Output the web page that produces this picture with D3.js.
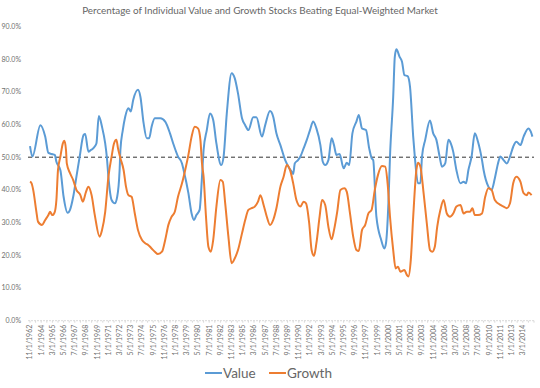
<!DOCTYPE html>
<html lang="en">

<head>
    <meta charset="UTF-8">
    <title>Value vs Growth</title>
    <script src="https://cdn.jsdelivr.net/npm/d3@7/dist/d3.min.js"></script>

    <style>

        body {
            margin: 0;
            background: #fff;
        }

        svg {
            font-family: Lato, "Open Sans", sans-serif;
        }

        .axis text {
            fill: #707070;
            font-size: 7px;
        }

        .series {
            fill: none;
            stroke-width: 2;
            stroke-linejoin: round;
        }

    </style>

</head>

<body>

    <svg width="540" height="388"></svg>

    <script>

        var titleText = "Percentage of Individual Value and Growth Stocks Beating Equal-Weighted Market";

        // one label every 14 months, first month = 11/1962
        var tickLabels = ["11/1/1962", "1/1/1964", "3/1/1965", "5/1/1966", "7/1/1967", "9/1/1968",
            "11/1/1969", "1/1/1971", "3/1/1972", "5/1/1973", "7/1/1974", "9/1/1975", "11/1/1976",
            "1/1/1978", "3/1/1979", "5/1/1980", "7/1/1981", "9/1/1982", "11/1/1983", "1/1/1985",
            "3/1/1986", "5/1/1987", "7/1/1988", "9/1/1989", "11/1/1990", "1/1/1992", "3/1/1993",
            "5/1/1994", "7/1/1995", "9/1/1996", "11/1/1997", "1/1/1999", "3/1/2000", "5/1/2001",
            "7/1/2002", "9/1/2003", "11/1/2004", "1/1/2006", "3/1/2007", "5/1/2008", "7/1/2009",
            "9/1/2010", "11/1/2011", "1/1/2013", "3/1/2014"];

        var yTicks = [0, 10, 20, 30, 40, 50, 60, 70, 80, 90];
        var benchmark = 50;

        // [months since 11/1962, percent]
        var valuePoints = [[0, 53.4], [3, 50.2], [13, 59.8], [19, 56.3], [23, 51.3], [27, 51], [31, 50.7],
            [33, 48.6], [38, 46], [42, 37.9], [47, 33], [50, 33.9], [54, 37.9], [58, 44], [62, 50],
            [67, 56.8], [69, 57.1], [73, 51.7], [76, 52.2], [79, 52.7], [83, 54.2], [86, 62.6], [90, 59.3],
            [94, 54.2], [96, 50.2], [98, 44], [102, 36.9], [106, 35.9], [109, 37.9], [112, 46], [113, 52.2],
            [116, 58.3], [119, 62.4], [123, 65], [126, 64], [129, 67.5], [135, 70.6], [138, 68.5],
            [142, 60.4], [146, 55.8], [149, 55.8], [152, 59.3], [156, 61.9], [163, 61.9], [169, 60.9],
            [175, 57.3], [179, 54.2], [185, 50.2], [190, 48.1], [192, 46.1], [198, 39], [202, 32.8],
            [205, 30.8], [208, 32.3], [212, 33.9], [215, 44], [217, 52.2], [221, 58.3], [225, 63.4],
            [229, 61.4], [233, 54.2], [239, 47.6], [242, 50.2], [246, 63.4], [252, 75.7], [256, 74.1],
            [260, 69.5], [265, 61.9], [269, 59.8], [273, 58.3], [279, 62.2], [283, 62.2], [290, 56.3],
            [294, 59.8], [300, 64.1], [304, 62.4], [308, 57.3], [313, 53.7], [319, 49.1], [323, 47.1],
            [327, 45.6], [329, 44.9], [331, 48.1], [335, 49.1], [338, 50.2], [342, 52.7], [346, 55.3],
            [350, 58.3], [354, 60.9], [358, 58.8], [363, 53.7], [366, 48.6], [369, 47.6], [373, 49.1],
            [377, 55.8], [380, 53.7], [383, 50.7], [387, 51], [392, 46.6], [396, 48.3], [399, 47.6],
            [403, 57.3], [408, 60.9], [411, 62.9], [415, 58.8], [420, 58.3], [424, 52.7], [427, 49.7],
            [429, 49.1], [433, 31.8], [439, 24.7], [443, 22.1], [445, 23.7], [448, 35.9], [450, 50.2],
            [454, 68.5], [456, 80.7], [458, 83], [462, 80.7], [465, 79.2], [468, 75.1], [472, 74.8],
            [475, 71.6], [479, 56.3], [481, 50.2], [485, 42], [488, 42], [490, 50.2], [494, 55.3],
            [500, 61.2], [504, 57.3], [508, 55.3], [512, 50.2], [515, 47.1], [519, 48.1], [523, 55.3],
            [526, 54.2], [529, 51.7], [533, 46.1], [538, 42], [542, 42.5], [545, 42], [548, 46.1],
            [552, 50.2], [556, 57.3], [560, 54.7], [565, 49.1], [567, 46.1], [573, 41], [577, 40],
            [581, 43.5], [585, 48.1], [588, 50.2], [592, 49.1], [596, 48.1], [600, 50.2], [604, 53.2],
            [608, 54.7], [613, 53.7], [617, 56.3], [623, 58.8], [626, 57.8], [628, 56.3]];

        var growthPoints = [[0, 42.5], [2, 42], [4, 40], [8, 33.3], [10, 30.3], [15, 29.3], [19, 30.8],
            [23, 32.3], [25, 33.3], [28, 32.3], [31, 33.3], [33, 36.9], [35, 46.1], [38, 50.2], [41, 54.2],
            [43, 55], [45, 52.2], [46, 48.1], [50, 45.1], [54, 43], [58, 40], [63, 38.4], [66, 36.4],
            [70, 39.4], [73, 41], [77, 38.4], [81, 32.3], [87, 25.7], [90, 27.7], [94, 33.3], [98, 44],
            [102, 50.2], [105, 54.2], [108, 55.3], [110, 52.7], [113, 49.7], [117, 46.1], [120, 41],
            [123, 38.4], [127, 37.9], [131, 32.8], [135, 27.7], [140, 24.7], [144, 23.7], [148, 23.1],
            [152, 22.1], [156, 21.1], [160, 20.4], [165, 21.1], [169, 24.7], [173, 29.3], [177, 31.8],
            [181, 33.3], [185, 37.9], [190, 42], [194, 46.1], [198, 50.7], [202, 56.3], [206, 59.3],
            [210, 58.8], [213, 55.3], [215, 48.1], [217, 44], [220, 31.8], [223, 22.6], [226, 21.1],
            [229, 24.7], [233, 34.9], [238, 43], [241, 42.5], [244, 35.9], [248, 25.7], [252, 17.6],
            [256, 19.1], [260, 21.6], [265, 26.7], [269, 30.8], [273, 33.9], [277, 34.4], [281, 34.9],
            [285, 36.4], [288, 38.4], [292, 35.4], [296, 31.8], [300, 29.3], [304, 30.8], [308, 34.4],
            [313, 41], [317, 44], [321, 47.6], [325, 46.1], [329, 42], [333, 36.9], [338, 34.9],
            [342, 36.4], [345, 35.9], [349, 29.8], [352, 21.6], [355, 19.8], [358, 23.7], [362, 31.8],
            [365, 36.9], [369, 35.4], [373, 28.7], [377, 24.9], [380, 27.7], [384, 33.3], [388, 40],
            [393, 40.5], [396, 39.4], [400, 32.8], [404, 25.7], [408, 21.6], [411, 21.3], [415, 27.7],
            [419, 29.3], [423, 32.8], [427, 33.9], [431, 40], [435, 44.6], [440, 47.3], [444, 47.1],
            [447, 42], [450, 31.8], [454, 21.6], [457, 16], [460, 16.5], [463, 15], [468, 15.5],
            [471, 14], [473, 13.5], [476, 18.6], [479, 31.8], [483, 46.1], [485, 48.3], [488, 47.1],
            [492, 39], [496, 29.8], [500, 21.6], [503, 21.1], [506, 22.6], [509, 28.7], [513, 33.9],
            [517, 36.9], [521, 32.8], [525, 31.8], [529, 32.8], [533, 34.9], [538, 35.4], [542, 32.8],
            [546, 33.3], [550, 33.3], [553, 34.4], [556, 32.3], [560, 32.3], [565, 32.8], [569, 37.9],
            [573, 40.5], [577, 40], [581, 36.9], [588, 35.4], [592, 34.9], [596, 34.4], [600, 35.9],
            [604, 42], [608, 44], [613, 42.5], [617, 39], [621, 38.4], [623, 39.2], [627, 38.4]];

        var seriesNames = ["Value", "Growth"];
        var seriesColors = ["#5b9bd5", "#ed7d31"];

        var svg = d3.select("svg");

        var x = d3.scaleLinear().domain([0, 630]).range([30, 534]);
        var y = d3.scaleLinear().domain([0, 90]).range([320.7, 26.4]);

        // title, sized to the width it has in the original
        var title = svg.append("text")
            .attr("x", 260)
            .attr("y", 14)
            .attr("text-anchor", "middle")
            .style("fill", "#666")
            .style("font-size", "10px")
            .text(titleText);
        var tw = title.node().getComputedTextLength();
        title.style("font-size", (10 * 356 / tw) + "px");

        // y axis labels
        svg.append("g")
            .attr("class", "axis")
            .selectAll("text")
            .data(yTicks)
            .enter().append("text")
            .attr("x", 21)
            .attr("y", function(d) { return y(d); })
            .attr("dy", "0.35em")
            .attr("text-anchor", "end")
            .text(function(d) { return d.toFixed(1) + "%"; });

        // x axis
        var xAxis = svg.append("g")
            .attr("class", "axis")
            .attr("transform", "translate(0," + y(0) + ")");

        xAxis.append("line")
            .attr("x1", 28)
            .attr("x2", 534)
            .attr("stroke", "#d9d9d9")
            .attr("stroke-width", 1)
            .attr("stroke-dasharray", "2,1");

        xAxis.selectAll("line.tick")
            .data(d3.range(0, 631, 7))
            .enter().append("line")
            .attr("class", "tick")
            .attr("x1", function(d) { return x(d); })
            .attr("x2", function(d) { return x(d); })
            .attr("y1", 0)
            .attr("y2", 2)
            .attr("stroke", "#d9d9d9");

        xAxis.selectAll("text")
            .data(tickLabels)
            .enter().append("text")
            .attr("transform", function(d, i) {
                return "translate(" + x(i * 14) + ",4) rotate(-90)";
            })
            .attr("dy", "0.35em")
            .attr("text-anchor", "end")
            .text(function(d) { return d; });

        // 50% reference line
        svg.append("line")
            .attr("x1", 28)
            .attr("x2", 534)
            .attr("y1", y(benchmark))
            .attr("y2", y(benchmark))
            .attr("stroke", "#333")
            .attr("stroke-width", 1)
            .attr("stroke-dasharray", "4,3");

        var line = d3.line()
            .x(function(d) { return x(d[0]); })
            .y(function(d) { return y(d[1]); })
            .curve(d3.curveMonotoneX);

        svg.append("path")
            .datum(valuePoints)
            .attr("class", "series")
            .attr("stroke", seriesColors[0])
            .attr("d", line);

        svg.append("path")
            .datum(growthPoints)
            .attr("class", "series")
            .attr("stroke", seriesColors[1])
            .attr("d", line);

        // legend
        var legendX = [205, 269];
        var legend = svg.append("g")
            .selectAll("g")
            .data(seriesNames)
            .enter().append("g")
            .attr("transform", function(d, i) { return "translate(" + legendX[i] + ",373)"; });

        legend.append("line")
            .attr("x1", 0)
            .attr("x2", 17)
            .attr("stroke", function(d, i) { return seriesColors[i]; })
            .attr("stroke-width", 2);

        legend.append("text")
            .attr("x", 18)
            .attr("dy", "0.36em")
            .style("fill", "#666")
            .style("font-size", "13.5px")
            .text(function(d) { return d; });

    </script>

</body>

</html>
